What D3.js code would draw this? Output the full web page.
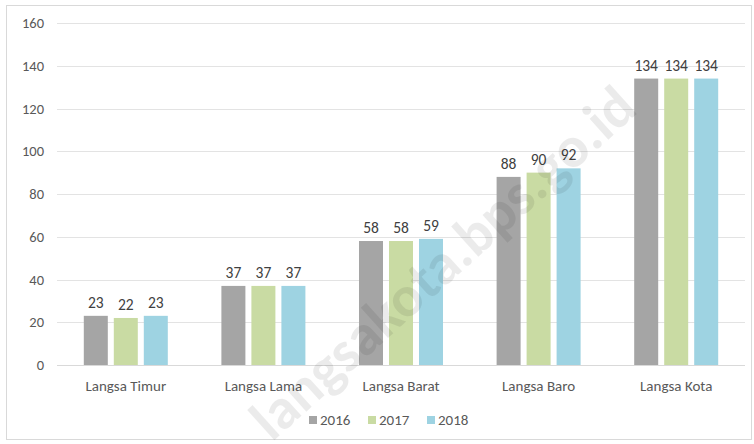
<!DOCTYPE html>
<html><head><meta charset="utf-8">
<script src="https://cdn.jsdelivr.net/npm/d3@7"></script>
<style>body{margin:0;background:#fff}svg{display:block}</style>
</head><body>
<svg id="c" width="754" height="444"></svg>
<script>
const categories = ["Langsa Timur","Langsa Lama","Langsa Barat","Langsa Baro","Langsa Kota"];
const years = ["2016","2017","2018"];
const v2016 = [23,37,58,88,134];
const v2017 = [22,37,58,90,134];
const v2018 = [23,37,59,92,134];
const yTicks = [0,20,40,60,80,100,120,140,160];
const colors = ["#a5a5a5","#c9dba3","#9ed3e2"];
const seriesVals = [v2016,v2017,v2018];

const svg = d3.select("#c");
const font = "Carlito, Calibri, Lato, sans-serif";
svg.append("rect").attr("x",6.5).attr("y",5.5).attr("width",745).attr("height",434)
  .attr("fill","#fff").attr("stroke","#d9d9d9");

const L=57,R=745,T=23,B=365;
const x = d3.scaleBand().domain(categories).range([L,R]);
const y = d3.scaleLinear().domain([0,160]).range([B,T]);
const xs = d3.scaleBand().domain(years).range([0,84]).paddingInner(0.2);

const gy = svg.append("g");
yTicks.forEach(t=>{
  gy.append("line").attr("x1",L).attr("x2",R).attr("y1",Math.round(y(t))+0.5).attr("y2",Math.round(y(t))+0.5)
    .attr("stroke",t===0?"#d9d9d9":"#e3e3e3").attr("stroke-width",1);
  gy.append("text").attr("x",44).attr("y",y(t)).attr("dy","0.35em").attr("text-anchor","end")
    .attr("font-family",font).attr("font-size",14.5).attr("fill","#595959").text(t);
});

const g = svg.append("g");
categories.forEach((c,i)=>{
  const gx = x(c)+x.bandwidth()/2-42;
  years.forEach((yr,j)=>{
    const v = seriesVals[j][i];
    g.append("rect").attr("x",gx+xs(yr)).attr("y",y(v)).attr("width",xs.bandwidth()).attr("height",y(0)-y(v))
      .attr("fill",colors[j]);
    g.append("text").attr("x",gx+xs(yr)+xs.bandwidth()/2).attr("y",y(v)-8).attr("text-anchor","middle")
      .attr("font-family",font).attr("font-size",15.5).attr("fill","#404040").text(v);
  });
  g.append("text").attr("x",x(c)+x.bandwidth()/2).attr("y",391).attr("text-anchor","middle")
    .attr("font-family",font).attr("font-size",15).attr("fill","#595959").text(c);
});

const lg = svg.append("g");
const lx = [309,368,427];
years.forEach((yr,j)=>{
  lg.append("rect").attr("x",lx[j]).attr("y",416).attr("width",8).attr("height",8).attr("fill",colors[j]);
  lg.append("text").attr("x",lx[j]+11).attr("y",420).attr("dy","0.35em")
    .attr("font-family",font).attr("font-size",15).attr("fill","#595959").text(yr);
});

svg.append("text").attr("transform","translate(442,262) rotate(-42)").attr("text-anchor","middle")
  .attr("dy","0.35em").attr("font-family",font).attr("font-weight","900").attr("font-size",58)
  .attr("fill","#000").attr("fill-opacity",0.08).text("langsakota.bps.go.id");
</script>
</body></html>
